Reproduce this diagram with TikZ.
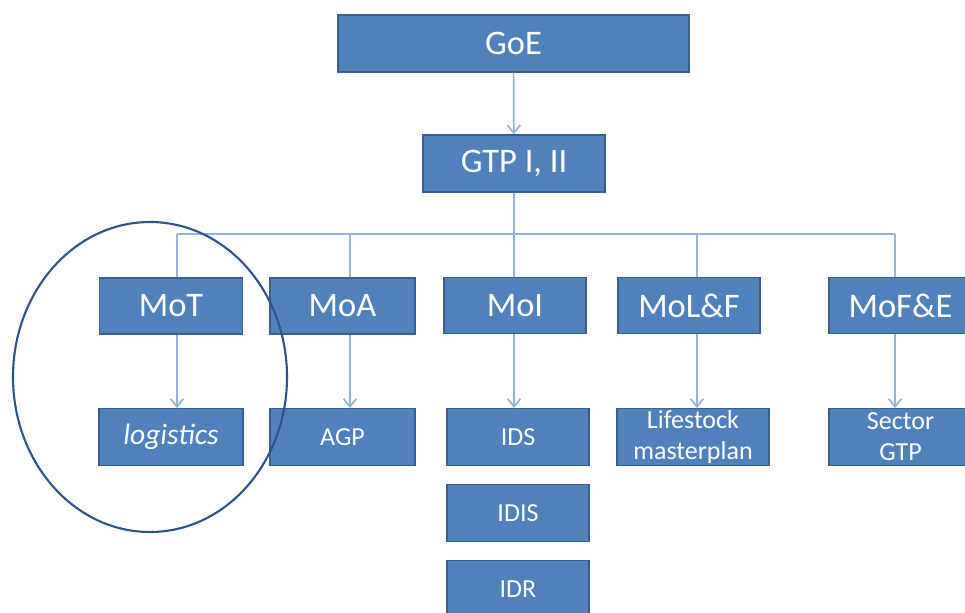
\documentclass[tikz,border=0pt]{standalone}
\usepackage{fontspec}
\setmainfont{Carlito}
\usetikzlibrary{arrows.meta}
\definecolor{boxblue}{HTML}{4F81BD}
\definecolor{boxedge}{HTML}{3A5F8B}
\definecolor{linkblue}{HTML}{95B3D7}
\definecolor{ringblue}{HTML}{2E5486}
\tikzset{
  orgbox/.style={draw=boxedge,line width=0.8pt,fill=boxblue,text=white,inner sep=0pt,align=center},
  bigbox/.style={orgbox,minimum height=1.4cm,font=\fontsize{24.5}{28}\selectfont},
  smallbox/.style={orgbox,minimum height=1.42cm,font=\fontsize{18.5}{22}\selectfont},
  link/.style={draw=linkblue,line width=1.2pt},
  linkarrow/.style={link,-{Straight Barb[length=0.2cm,width=0.32cm]}}
}
\begin{document}
\begin{tikzpicture}[x=0.025cm,y=-0.025cm]
   \useasboundingbox[fill=white] (0,0) rectangle (965,612);
   \node[bigbox,minimum width=8.775cm,minimum height=1.425cm] (goe) at (513.5,43.5) {GoE};
   \node[bigbox,minimum width=4.55cm,minimum height=1.425cm] (gtp) at (514,163.5) {GTP I, II};
   \node[bigbox,minimum width=3.575cm] (mot) at (171,306) {MoT};
   \node[bigbox,minimum width=3.625cm] (moa) at (342.5,306) {MoA};
   \node[bigbox,minimum width=3.55cm] (moi) at (515,305.5) {MoI};
   \node[bigbox,minimum width=3.55cm] (molf) at (689,305.5) {MoL\&F};
   \node[bigbox,minimum width=3.575cm] (mofe) at (900.5,305.5) {MoF\&E};
   \node[smallbox,minimum width=3.6cm,font=\fontsize{21}{22}\selectfont\itshape] (logistics) at (171,437) {logistics};
   \node[smallbox,minimum width=3.625cm] (agp) at (342.5,437) {AGP};
   \node[smallbox,minimum width=3.55cm] (ids) at (518,437) {IDS};
   \node[smallbox,minimum width=3.55cm] (idis) at (518,513) {IDIS};
   \node[smallbox,minimum width=3.55cm] (idr) at (518,589) {IDR};
   \node[smallbox,minimum width=3.8cm] (lifestock) at (693,437) {Lifestock\\masterplan};
   \node[smallbox,minimum width=3.575cm] (sector) at (900.5,437) {Sector\\GTP};
   \coordinate (b1) at (177,234);
   \coordinate (b2) at (350,234);
   \coordinate (b3) at (514,234);
   \coordinate (b4) at (697,234);
   \coordinate (b5) at (895,234);
   \draw[linkarrow] (goe) -- (gtp);
   \draw[link] (gtp) -- (b3 |- moi.north);
   \draw[link] (b1) -- (b5);
   \draw[link] (b1) -- (b1 |- mot.north);
   \draw[link] (b2) -- (b2 |- moa.north);
   \draw[link] (b4) -- (b4 |- molf.north);
   \draw[link] (b5) -- (b5 |- mofe.north);
   \draw[linkarrow] (b1 |- mot.south) -- (b1 |- logistics.north);
   \draw[linkarrow] (b2 |- moa.south) -- (b2 |- agp.north);
   \draw[linkarrow] (b3 |- moi.south) -- (b3 |- ids.north);
   \draw[linkarrow] (b4 |- molf.south) -- (b4 |- lifestock.north);
   \draw[linkarrow] (b5 |- mofe.south) -- (b5 |- sector.north);
   \draw[ringblue,line width=1.5pt] (150,377) ellipse (137 and 155);
\end{tikzpicture}
\end{document}
